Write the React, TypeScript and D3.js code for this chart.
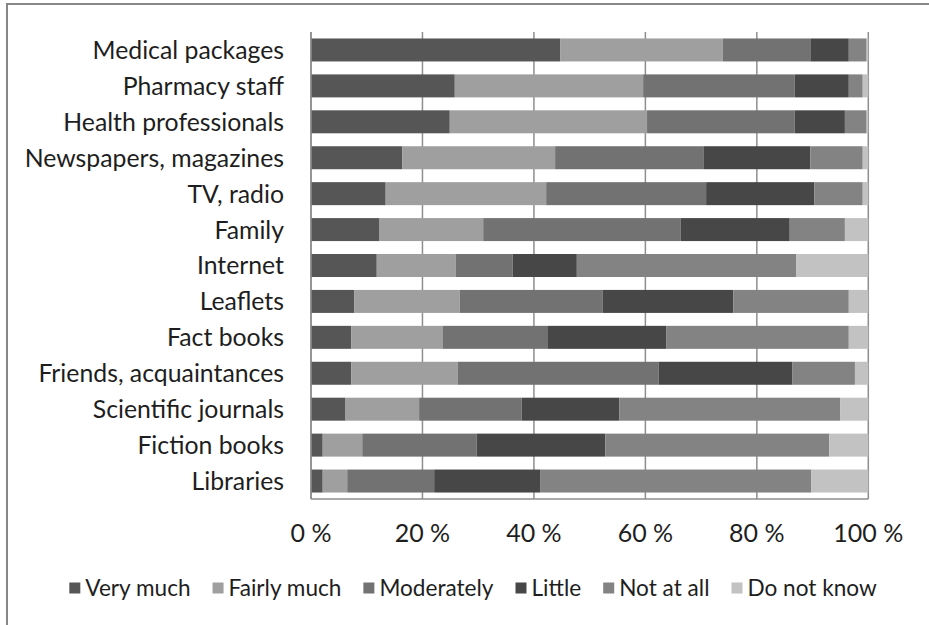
import React, { useEffect, useRef } from 'react';
import * as d3 from 'd3';

const categories = [
  'Medical packages',
  'Pharmacy staff',
  'Health professionals',
  'Newspapers, magazines',
  'TV, radio',
  'Family',
  'Internet',
  'Leaflets',
  'Fact books',
  'Friends, acquaintances',
  'Scientific journals',
  'Fiction books',
  'Libraries',
];

const seriesNames = ['Very much', 'Fairly much', 'Moderately', 'Little', 'Not at all', 'Do not know'];

const veryMuch = [44.7, 25.8, 24.9, 16.4, 13.4, 12.3, 11.8, 7.8, 7.2, 7.2, 6.2, 2.1, 2.1];
const fairlyMuch = [29.2, 33.8, 35.4, 27.4, 28.8, 18.6, 14.2, 18.9, 16.4, 19.1, 13.2, 7.1, 4.4];
const moderately = [15.7, 27.2, 26.5, 26.7, 28.7, 35.4, 10.2, 25.6, 18.8, 36.1, 18.4, 20.5, 15.6];
const little = [6.9, 9.7, 9.0, 19.1, 19.4, 19.6, 11.5, 23.5, 21.4, 24.0, 17.5, 23.1, 19.1];
const notAtAll = [3.2, 2.5, 3.9, 9.4, 8.7, 9.9, 39.4, 20.7, 32.7, 11.2, 39.7, 40.2, 48.6];
const doNotKnow = [0.3, 1.0, 0.3, 1.0, 1.0, 4.2, 12.9, 3.5, 3.5, 2.4, 5.0, 7.0, 10.2];

const seriesColors = ['#565656', '#9f9f9f', '#727272', '#474747', '#838383', '#c2c2c2'];
const tickValues = [0, 20, 40, 60, 80, 100];

const W = 929;
const H = 625;
const FONT = 'Lato, "Open Sans", sans-serif';

export default function App() {
  const ref = useRef<SVGSVGElement | null>(null);

  useEffect(() => {
    const svg = d3.select(ref.current);
    svg.selectAll('*').remove();

    const seriesValues = [veryMuch, fairlyMuch, moderately, little, notAtAll, doNotKnow];
    const rows = categories.map((c, i) => {
      const r: any = { category: c };
      seriesNames.forEach((s, k) => (r[s] = seriesValues[k][i]));
      return r;
    });
    const stacked = d3.stack<any>().keys(seriesNames)(rows);

    const plotTop = 32;
    const plotBottom = 499;
    const x = d3.scaleLinear().domain([0, 100]).range([311, 868.3]);
    const y = d3
      .scaleBand<string>()
      .domain(categories)
      .range([plotTop, plotBottom])
      .paddingInner(0.36)
      .paddingOuter(0.18);
    const color = d3.scaleOrdinal<string, string>().domain(seriesNames).range(seriesColors);

    // frame
    svg
      .append('rect')
      .attr('x', 7)
      .attr('y', 4)
      .attr('width', W + 20)
      .attr('height', H + 20)
      .attr('fill', 'none')
      .attr('stroke', '#878787')
      .attr('stroke-width', 2);

    // gridlines
    svg
      .append('g')
      .selectAll('line')
      .data(tickValues)
      .join('line')
      .attr('x1', (d) => x(d))
      .attr('x2', (d) => x(d))
      .attr('y1', plotTop)
      .attr('y2', plotBottom)
      .attr('stroke', '#8e8e8e')
      .attr('stroke-width', 1.5);

    // bars
    svg
      .append('g')
      .selectAll('g')
      .data(stacked)
      .join('g')
      .attr('fill', (d) => color(d.key))
      .selectAll('rect')
      .data((d) => d)
      .join('rect')
      .attr('x', (d) => x(d[0]))
      .attr('width', (d) => Math.max(0, x(d[1]) - x(d[0])))
      .attr('y', (d) => y(d.data.category)!)
      .attr('height', y.bandwidth());

    // axis lines
    svg
      .append('line')
      .attr('x1', x(0))
      .attr('x2', x(100))
      .attr('y1', plotBottom)
      .attr('y2', plotBottom)
      .attr('stroke', '#8e8e8e')
      .attr('stroke-width', 1.5);
    svg
      .append('line')
      .attr('x1', x(0))
      .attr('x2', x(0))
      .attr('y1', plotTop)
      .attr('y2', plotBottom)
      .attr('stroke', '#8e8e8e')
      .attr('stroke-width', 1.5);

    // category labels
    svg
      .append('g')
      .selectAll('text')
      .data(categories)
      .join('text')
      .attr('x', 284)
      .attr('y', (d) => y(d)! + y.bandwidth() / 2)
      .attr('dy', '0.36em')
      .attr('text-anchor', 'end')
      .attr('font-family', FONT)
      .attr('font-size', 24.8)
      .attr('fill', '#1e1e1e')
      .text((d) => d);

    // tick labels
    svg
      .append('g')
      .selectAll('text')
      .data(tickValues)
      .join('text')
      .attr('x', (d) => x(d))
      .attr('y', 533)
      .attr('dy', '0.36em')
      .attr('text-anchor', 'middle')
      .attr('font-family', FONT)
      .attr('font-size', 25)
      .attr('fill', '#1e1e1e')
      .text((d) => `${d} %`);

    // legend
    const legend = svg.append('g');
    const sq = 11;
    const gapSqText = 5;
    const gapItems = 22;
    const legendY = 588;
    const items = seriesNames.map((name) => {
      const g = legend.append('g');
      g.append('rect')
        .attr('width', sq)
        .attr('height', sq)
        .attr('y', legendY - sq / 2)
        .attr('fill', color(name));
      const t = g
        .append('text')
        .attr('x', sq + gapSqText)
        .attr('y', legendY)
        .attr('dy', '0.36em')
        .attr('font-family', FONT)
        .attr('font-size', 22.6)
        .attr('fill', '#1e1e1e')
        .text(name);
      const w = (t.node() as SVGTextElement).getComputedTextLength();
      return { g, w: sq + gapSqText + w };
    });
    const total = items.reduce((s, it) => s + it.w, 0) + gapItems * (items.length - 1);
    let cx = 473 - total / 2;
    items.forEach((it) => {
      it.g.attr('transform', `translate(${cx},0)`);
      cx += it.w + gapItems;
    });
  }, []);

  return (
    <svg
      ref={ref}
      width={W}
      height={H}
      style={{ position: 'absolute', left: 0, top: 0, background: '#fff' }}
    />
  );
}
